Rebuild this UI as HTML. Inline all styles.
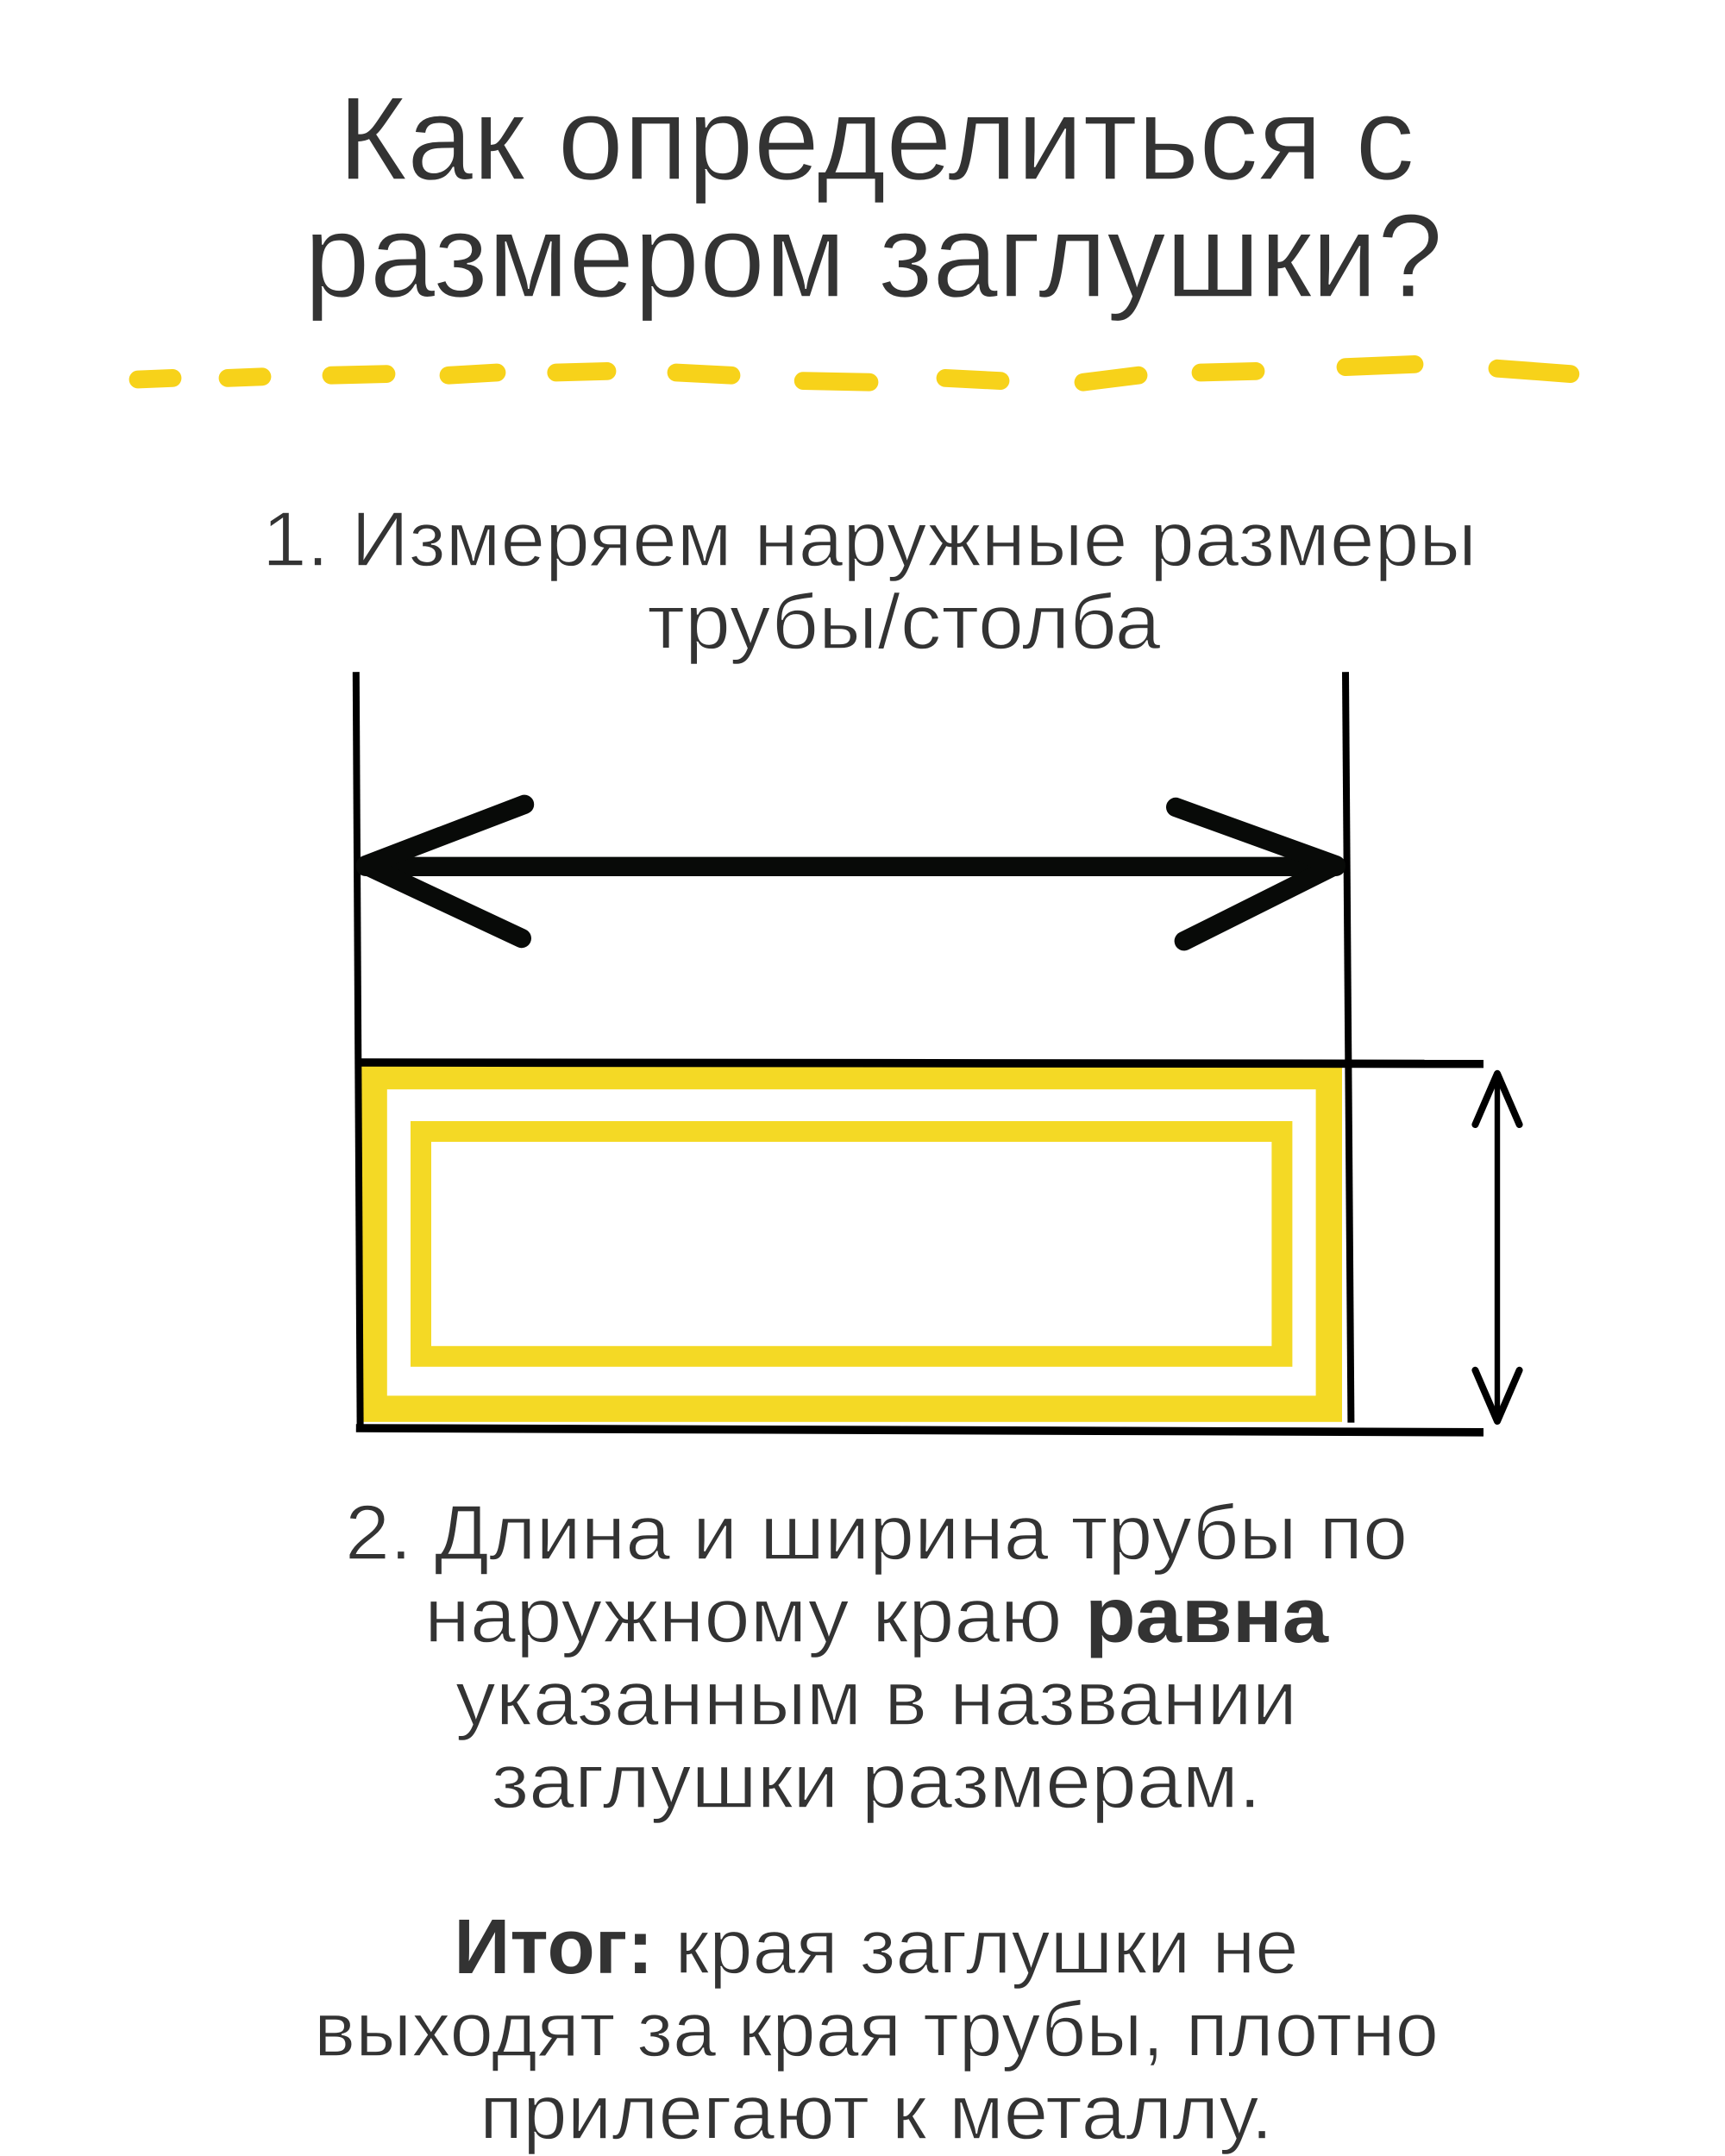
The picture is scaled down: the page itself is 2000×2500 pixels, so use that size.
<!DOCTYPE html>
<html><head><meta charset="utf-8"><style>
html,body{margin:0;padding:0;background:#fff;}
svg{display:block;}
text{font-family:"Liberation Sans","DejaVu Sans",sans-serif;fill:#333;stroke:#fff;stroke-width:0.9;paint-order:normal;}
tspan.b{stroke-width:0;}
</style></head><body>
<svg width="2000" height="2500" viewBox="0 0 1250 1562.5" xmlns="http://www.w3.org/2000/svg">
<rect width="1250" height="1562.5" fill="#fff"/>
<text x="635" y="130" font-size="86" text-anchor="middle" textLength="780" lengthAdjust="spacingAndGlyphs">Как определиться с</text>
<text x="633" y="215" font-size="86" text-anchor="middle" textLength="825" lengthAdjust="spacingAndGlyphs">размером заглушки?</text>
<g stroke="#F7D21A" stroke-width="13" stroke-linecap="round">
<line x1="100" y1="275" x2="125" y2="274"/>
<line x1="165" y1="274" x2="190" y2="273"/>
<line x1="240" y1="272" x2="280" y2="271"/>
<line x1="325" y1="272" x2="360" y2="270"/>
<line x1="403" y1="270" x2="440" y2="269"/>
<line x1="490" y1="270" x2="530" y2="272"/>
<line x1="582" y1="276" x2="630" y2="277"/>
<line x1="685" y1="274" x2="725" y2="276"/>
<line x1="785" y1="277" x2="825" y2="272"/>
<line x1="870" y1="270" x2="910" y2="269"/>
<line x1="975" y1="266" x2="1025" y2="264"/>
<line x1="1085" y1="267" x2="1138" y2="271"/>
</g>
<text x="630" y="410" font-size="56" text-anchor="middle" textLength="880" lengthAdjust="spacingAndGlyphs">1. Измеряем наружные размеры</text>
<text x="655" y="470" font-size="56" text-anchor="middle" textLength="372" lengthAdjust="spacingAndGlyphs">трубы/столба</text>
<rect x="271" y="780" width="692" height="241" fill="none" stroke="#F4D925" stroke-width="19"/>
<rect x="305" y="820" width="624" height="163" fill="none" stroke="#F4D925" stroke-width="15"/>
<g stroke="#000" fill="none">
<line x1="258" y1="487" x2="261" y2="1033" stroke-width="5"/>
<line x1="975" y1="487" x2="979" y2="1031" stroke-width="5"/>
<line x1="260" y1="770" x2="1075" y2="771" stroke-width="6"/>
<line x1="258" y1="1035" x2="1075" y2="1038" stroke-width="6"/>
<line x1="1085" y1="780" x2="1085" y2="1030" stroke-width="4"/>
<polyline points="1069,815 1085,778 1101,815" stroke-width="5" stroke-linecap="round" stroke-linejoin="round"/>
<polyline points="1069,993 1085,1030 1101,993" stroke-width="5" stroke-linecap="round" stroke-linejoin="round"/>
</g>
<g stroke="#080a08" fill="none" stroke-linecap="round" stroke-linejoin="round">
<line x1="265" y1="628" x2="968" y2="628" stroke-width="14"/>
<polyline points="380,583 265,627 378,680" stroke-width="14"/>
<polyline points="852,585 968,627 858,682" stroke-width="14"/>
</g>
<text x="635" y="1130" font-size="56" text-anchor="middle" textLength="770" lengthAdjust="spacingAndGlyphs">2. Длина и ширина трубы по</text>
<text x="635" y="1190" font-size="56" text-anchor="middle" textLength="655" lengthAdjust="spacingAndGlyphs">наружному краю <tspan class="b" font-weight="bold">равна</tspan></text>
<text x="635" y="1250" font-size="56" text-anchor="middle" textLength="610" lengthAdjust="spacingAndGlyphs">указанным в названии</text>
<text x="635" y="1310" font-size="56" text-anchor="middle" textLength="558" lengthAdjust="spacingAndGlyphs">заглушки размерам.</text>
<text x="635" y="1430" font-size="56" text-anchor="middle" textLength="612" lengthAdjust="spacingAndGlyphs"><tspan class="b" font-weight="bold">Итог:</tspan> края заглушки не</text>
<text x="635" y="1490" font-size="56" text-anchor="middle" textLength="815" lengthAdjust="spacingAndGlyphs">выходят за края трубы, плотно</text>
<text x="635" y="1550" font-size="56" text-anchor="middle" textLength="575" lengthAdjust="spacingAndGlyphs">прилегают к металлу.</text>
</svg>
</body></html>
